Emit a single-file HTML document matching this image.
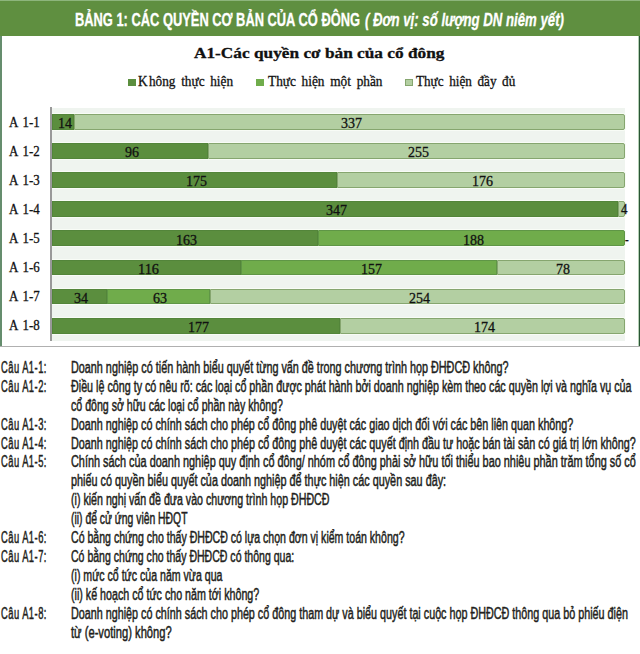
<!DOCTYPE html>
<html><head><meta charset="utf-8"><style>
html,body{margin:0;padding:0;width:640px;height:654px;overflow:hidden;background:#fff;position:relative}
.t{position:absolute;white-space:nowrap;line-height:1;transform-origin:0 0}
.hdr{position:absolute;left:0;top:0;width:640px;height:36px;background:#5f8f40}
.fl{position:absolute;left:0;top:36px;width:2.3px;height:311px;background:#658d6d}
.fr{position:absolute;left:638.8px;top:36px;width:1.2px;height:311px;background:#2a5535}
.fr2{position:absolute;left:637.5px;top:36px;width:1.3px;height:310px;background:#b5d0b5}
.fb{position:absolute;left:0;top:345.9px;width:640px;height:1.6px;background:#b0b0b0}
.plot{position:absolute;left:51px;top:107.5px;width:574px;height:233px;background:#eff4ef}
.axis{position:absolute;left:50.2px;top:107px;width:1.5px;height:234.4px;background:#999;z-index:2}
.bar{position:absolute;left:51.5px;height:15.8px;display:flex;box-shadow:0 0 0 1px #f8fcf6;width:573px}
.seg{height:100%;box-sizing:border-box}
.seg:last-child{border-radius:0 2px 2px 0}
.bar{border-radius:0 2px 2px 0}
.d{background:#5b8e3e;border:1px solid #53853a}
.m{background:#70ac4b;border:1px solid #5f9646}
.l{background:#b3cfa2;border:1px solid #86a66f}
.lg{position:absolute;top:79.2px;width:7.5px;height:7px}

</style></head><body>

<div class="hdr"></div><div style="position:absolute;left:0;top:0;width:640px;height:1px;background:#8db57c"></div>
<div class="fl"></div><div class="fr2"></div><div class="fr"></div><div class="fb"></div>
<div class="plot"></div>
<div class="axis"></div>
<div class="lg" style="left:128.25px;background:#5b8e3e"></div>
<div class="lg" style="left:256.25px;background:#70ac4b"></div>
<div class="lg" style="left:405px;background:#b3cfa2;border:1px solid #86a66f;box-sizing:border-box"></div>

<div class="bar" style="top:113.80px"><div class="seg d" style="width:22.86px"></div><div class="seg l" style="width:550.34px"></div></div>
<div class="bar" style="top:142.94px"><div class="seg d" style="width:156.77px"></div><div class="seg l" style="width:416.43px"></div></div>
<div class="bar" style="top:172.08px"><div class="seg d" style="width:285.78px"></div><div class="seg l" style="width:287.42px"></div></div>
<div class="bar" style="top:201.22px"><div class="seg d" style="width:566.67px"></div><div class="seg l" style="width:6.53px"></div></div>
<div class="bar" style="top:230.36px"><div class="seg d" style="width:266.19px"></div><div class="seg m" style="width:307.01px"></div></div>
<div class="bar" style="top:259.50px"><div class="seg d" style="width:189.43px"></div><div class="seg m" style="width:256.39px"></div><div class="seg l" style="width:127.38px"></div></div>
<div class="bar" style="top:288.64px"><div class="seg d" style="width:55.52px"></div><div class="seg m" style="width:102.88px"></div><div class="seg l" style="width:414.79px"></div></div>
<div class="bar" style="top:317.78px"><div class="seg d" style="width:289.05px"></div><div class="seg l" style="width:284.15px"></div></div>
<div class="t" id="t0" style="left:74.50px;top:11.79px;font-family:'Liberation Sans', sans-serif;font-size:17.5px;font-weight:bold;font-style:normal;color:#ffffff;transform:scaleX(0.7352);-webkit-text-stroke:0.3px #ffffff;word-spacing:0px;letter-spacing:0px">BẢNG 1: CÁC QUYỀN CƠ BẢN CỦA CỔ ĐÔNG</div>
<div class="t" id="t1" style="left:365.00px;top:11.79px;font-family:'Liberation Sans', sans-serif;font-size:17.5px;font-weight:bold;font-style:italic;color:#ffffff;transform:scaleX(0.7552);-webkit-text-stroke:0.3px #ffffff;word-spacing:0px;letter-spacing:0px">( Đơn vị: số lượng DN niêm yết)</div>
<div class="t" id="t2" style="left:194.20px;top:45.84px;font-family:'Liberation Serif', serif;font-size:15px;font-weight:bold;font-style:normal;color:#111;transform:scaleX(1.1513);-webkit-text-stroke:0.3px #111;word-spacing:0px;letter-spacing:0px">A1-Các quyền cơ bản của cổ đông</div>
<div class="t" id="t3" style="left:138.00px;top:75.48px;font-family:'Liberation Serif', serif;font-size:14px;font-weight:normal;font-style:normal;color:#111;transform:scaleX(0.9460);-webkit-text-stroke:0.3px #111;word-spacing:2.5px;letter-spacing:0px">K<span style="margin-left:1.5px">hông</span> thực hiện</div>
<div class="t" id="t4" style="left:267.50px;top:75.48px;font-family:'Liberation Serif', serif;font-size:14px;font-weight:normal;font-style:normal;color:#111;transform:scaleX(0.9506);-webkit-text-stroke:0.3px #111;word-spacing:2.5px;letter-spacing:0px">Thực hiện một phần</div>
<div class="t" id="t5" style="left:415.75px;top:75.48px;font-family:'Liberation Serif', serif;font-size:14px;font-weight:normal;font-style:normal;color:#111;transform:scaleX(0.9392);-webkit-text-stroke:0.3px #111;word-spacing:2.5px;letter-spacing:0px">Thực hiện đầy đủ</div>
<div class="t" id="t6" style="left:9.20px;top:114.51px;font-family:'Liberation Serif', serif;font-size:14.5px;font-weight:normal;font-style:normal;color:#111;transform:scaleX(0.8895);-webkit-text-stroke:0.3px #111;word-spacing:2px;letter-spacing:0px">A 1-1</div>
<div class="t" id="t7" style="left:9.20px;top:143.65px;font-family:'Liberation Serif', serif;font-size:14.5px;font-weight:normal;font-style:normal;color:#111;transform:scaleX(0.8895);-webkit-text-stroke:0.3px #111;word-spacing:2px;letter-spacing:0px">A 1-2</div>
<div class="t" id="t8" style="left:9.20px;top:172.79px;font-family:'Liberation Serif', serif;font-size:14.5px;font-weight:normal;font-style:normal;color:#111;transform:scaleX(0.8895);-webkit-text-stroke:0.3px #111;word-spacing:2px;letter-spacing:0px">A 1-3</div>
<div class="t" id="t9" style="left:9.20px;top:201.93px;font-family:'Liberation Serif', serif;font-size:14.5px;font-weight:normal;font-style:normal;color:#111;transform:scaleX(0.8895);-webkit-text-stroke:0.3px #111;word-spacing:2px;letter-spacing:0px">A 1-4</div>
<div class="t" id="t10" style="left:9.20px;top:231.07px;font-family:'Liberation Serif', serif;font-size:14.5px;font-weight:normal;font-style:normal;color:#111;transform:scaleX(0.8895);-webkit-text-stroke:0.3px #111;word-spacing:2px;letter-spacing:0px">A 1-5</div>
<div class="t" id="t11" style="left:9.20px;top:260.21px;font-family:'Liberation Serif', serif;font-size:14.5px;font-weight:normal;font-style:normal;color:#111;transform:scaleX(0.8895);-webkit-text-stroke:0.3px #111;word-spacing:2px;letter-spacing:0px">A 1-6</div>
<div class="t" id="t12" style="left:9.20px;top:289.35px;font-family:'Liberation Serif', serif;font-size:14.5px;font-weight:normal;font-style:normal;color:#111;transform:scaleX(0.8895);-webkit-text-stroke:0.3px #111;word-spacing:2px;letter-spacing:0px">A 1-7</div>
<div class="t" id="t13" style="left:9.20px;top:318.49px;font-family:'Liberation Serif', serif;font-size:14.5px;font-weight:normal;font-style:normal;color:#111;transform:scaleX(0.8895);-webkit-text-stroke:0.3px #111;word-spacing:2px;letter-spacing:0px">A 1-8</div>
<div class="t" id="t14" style="left:57.93px;top:115.94px;font-family:'Liberation Serif', serif;font-size:15px;font-weight:normal;font-style:normal;color:#111;transform:scaleX(0.9333);-webkit-text-stroke:0.3px #111;word-spacing:0px;letter-spacing:0px">14</div>
<div class="t" id="t15" style="left:341.03px;top:115.94px;font-family:'Liberation Serif', serif;font-size:15px;font-weight:normal;font-style:normal;color:#111;transform:scaleX(0.9333);-webkit-text-stroke:0.3px #111;word-spacing:0px;letter-spacing:0px">337</div>
<div class="t" id="t16" style="left:124.89px;top:145.08px;font-family:'Liberation Serif', serif;font-size:15px;font-weight:normal;font-style:normal;color:#111;transform:scaleX(0.9333);-webkit-text-stroke:0.3px #111;word-spacing:0px;letter-spacing:0px">96</div>
<div class="t" id="t17" style="left:407.99px;top:145.08px;font-family:'Liberation Serif', serif;font-size:15px;font-weight:normal;font-style:normal;color:#111;transform:scaleX(0.9333);-webkit-text-stroke:0.3px #111;word-spacing:0px;letter-spacing:0px">255</div>
<div class="t" id="t18" style="left:185.89px;top:174.22px;font-family:'Liberation Serif', serif;font-size:15px;font-weight:normal;font-style:normal;color:#111;transform:scaleX(0.9333);-webkit-text-stroke:0.3px #111;word-spacing:0px;letter-spacing:0px">175</div>
<div class="t" id="t19" style="left:472.49px;top:174.22px;font-family:'Liberation Serif', serif;font-size:15px;font-weight:normal;font-style:normal;color:#111;transform:scaleX(0.9333);-webkit-text-stroke:0.3px #111;word-spacing:0px;letter-spacing:0px">176</div>
<div class="t" id="t20" style="left:326.33px;top:203.36px;font-family:'Liberation Serif', serif;font-size:15px;font-weight:normal;font-style:normal;color:#111;transform:scaleX(0.9333);-webkit-text-stroke:0.3px #111;word-spacing:0px;letter-spacing:0px">347</div>
<div class="t" id="t21" style="left:176.09px;top:232.50px;font-family:'Liberation Serif', serif;font-size:15px;font-weight:normal;font-style:normal;color:#111;transform:scaleX(0.9333);-webkit-text-stroke:0.3px #111;word-spacing:0px;letter-spacing:0px">163</div>
<div class="t" id="t22" style="left:462.69px;top:232.50px;font-family:'Liberation Serif', serif;font-size:15px;font-weight:normal;font-style:normal;color:#111;transform:scaleX(0.9333);-webkit-text-stroke:0.3px #111;word-spacing:0px;letter-spacing:0px">188</div>
<div class="t" id="t23" style="left:137.72px;top:261.64px;font-family:'Liberation Serif', serif;font-size:15px;font-weight:normal;font-style:normal;color:#111;transform:scaleX(0.9566);-webkit-text-stroke:0.3px #111;word-spacing:0px;letter-spacing:0px">116</div>
<div class="t" id="t24" style="left:360.63px;top:261.64px;font-family:'Liberation Serif', serif;font-size:15px;font-weight:normal;font-style:normal;color:#111;transform:scaleX(0.9333);-webkit-text-stroke:0.3px #111;word-spacing:0px;letter-spacing:0px">157</div>
<div class="t" id="t25" style="left:556.01px;top:261.64px;font-family:'Liberation Serif', serif;font-size:15px;font-weight:normal;font-style:normal;color:#111;transform:scaleX(0.9333);-webkit-text-stroke:0.3px #111;word-spacing:0px;letter-spacing:0px">78</div>
<div class="t" id="t26" style="left:74.26px;top:290.78px;font-family:'Liberation Serif', serif;font-size:15px;font-weight:normal;font-style:normal;color:#111;transform:scaleX(0.9333);-webkit-text-stroke:0.3px #111;word-spacing:0px;letter-spacing:0px">34</div>
<div class="t" id="t27" style="left:153.46px;top:290.78px;font-family:'Liberation Serif', serif;font-size:15px;font-weight:normal;font-style:normal;color:#111;transform:scaleX(0.9333);-webkit-text-stroke:0.3px #111;word-spacing:0px;letter-spacing:0px">63</div>
<div class="t" id="t28" style="left:408.80px;top:290.78px;font-family:'Liberation Serif', serif;font-size:15px;font-weight:normal;font-style:normal;color:#111;transform:scaleX(0.9333);-webkit-text-stroke:0.3px #111;word-spacing:0px;letter-spacing:0px">254</div>
<div class="t" id="t29" style="left:187.52px;top:319.92px;font-family:'Liberation Serif', serif;font-size:15px;font-weight:normal;font-style:normal;color:#111;transform:scaleX(0.9333);-webkit-text-stroke:0.3px #111;word-spacing:0px;letter-spacing:0px">177</div>
<div class="t" id="t30" style="left:474.12px;top:319.92px;font-family:'Liberation Serif', serif;font-size:15px;font-weight:normal;font-style:normal;color:#111;transform:scaleX(0.9333);-webkit-text-stroke:0.3px #111;word-spacing:0px;letter-spacing:0px">174</div>
<div class="t" id="t31" style="left:620.70px;top:202.16px;font-family:'Liberation Serif', serif;font-size:14.5px;font-weight:normal;font-style:normal;color:#111;transform:scaleX(0.8966);-webkit-text-stroke:0.3px #111;word-spacing:0px;letter-spacing:0px">4</div>
<div class="t" id="t32" style="left:625.30px;top:231.86px;font-family:'Liberation Serif', serif;font-size:14.5px;font-weight:normal;font-style:normal;color:#111;transform:scaleX(0.7639);-webkit-text-stroke:0.3px #111;word-spacing:0px;letter-spacing:0px">-</div>
<div class="t" id="t33" style="left:0.50px;top:359.93px;font-family:'Liberation Sans', sans-serif;font-size:15.8px;font-weight:normal;font-style:normal;color:#231f20;transform:scaleX(0.5926);-webkit-text-stroke:0.5px #231f20;word-spacing:0px;letter-spacing:0.8px">Câu A1-1:</div>
<div class="t" id="t34" style="left:71.40px;top:359.93px;font-family:'Liberation Sans', sans-serif;font-size:15.8px;font-weight:normal;font-style:normal;color:#231f20;transform:scaleX(0.6844);-webkit-text-stroke:0.5px #231f20;word-spacing:0px;letter-spacing:0px">Doanh nghiệp có tiến hành biểu quyết từng vấn đề trong chương trình họp ĐHĐCĐ không?</div>
<div class="t" id="t35" style="left:0.50px;top:378.83px;font-family:'Liberation Sans', sans-serif;font-size:15.8px;font-weight:normal;font-style:normal;color:#231f20;transform:scaleX(0.5926);-webkit-text-stroke:0.5px #231f20;word-spacing:0px;letter-spacing:0.8px">Câu A1-2:</div>
<div class="t" id="t36" style="left:71.40px;top:378.83px;font-family:'Liberation Sans', sans-serif;font-size:15.8px;font-weight:normal;font-style:normal;color:#231f20;transform:scaleX(0.6794);-webkit-text-stroke:0.5px #231f20;word-spacing:0px;letter-spacing:0px">Điều lệ công ty có nêu rõ: các loại cổ phần được phát hành bởi doanh nghiệp kèm theo các quyền lợi và nghĩa vụ của</div>
<div class="t" id="t37" style="left:71.40px;top:397.73px;font-family:'Liberation Sans', sans-serif;font-size:15.8px;font-weight:normal;font-style:normal;color:#231f20;transform:scaleX(0.6708);-webkit-text-stroke:0.5px #231f20;word-spacing:0px;letter-spacing:0px">cổ đông sở hữu các loại cổ phần này không?</div>
<div class="t" id="t38" style="left:0.50px;top:416.63px;font-family:'Liberation Sans', sans-serif;font-size:15.8px;font-weight:normal;font-style:normal;color:#231f20;transform:scaleX(0.5926);-webkit-text-stroke:0.5px #231f20;word-spacing:0px;letter-spacing:0.8px">Câu A1-3:</div>
<div class="t" id="t39" style="left:71.40px;top:416.63px;font-family:'Liberation Sans', sans-serif;font-size:15.8px;font-weight:normal;font-style:normal;color:#231f20;transform:scaleX(0.6819);-webkit-text-stroke:0.5px #231f20;word-spacing:0px;letter-spacing:0px">Doanh nghiệp có chính sách cho phép cổ đông phê duyệt các giao dịch đối với các bên liên quan không?</div>
<div class="t" id="t40" style="left:0.50px;top:435.53px;font-family:'Liberation Sans', sans-serif;font-size:15.8px;font-weight:normal;font-style:normal;color:#231f20;transform:scaleX(0.5926);-webkit-text-stroke:0.5px #231f20;word-spacing:0px;letter-spacing:0.8px">Câu A1-4:</div>
<div class="t" id="t41" style="left:71.40px;top:435.53px;font-family:'Liberation Sans', sans-serif;font-size:15.8px;font-weight:normal;font-style:normal;color:#231f20;transform:scaleX(0.6821);-webkit-text-stroke:0.5px #231f20;word-spacing:0px;letter-spacing:0px">Doanh nghiệp có chính sách cho phép cổ đông phê duyệt các quyết định đầu tư hoặc bán tài sản có giá trị lớn không?</div>
<div class="t" id="t42" style="left:0.50px;top:454.43px;font-family:'Liberation Sans', sans-serif;font-size:15.8px;font-weight:normal;font-style:normal;color:#231f20;transform:scaleX(0.5926);-webkit-text-stroke:0.5px #231f20;word-spacing:0px;letter-spacing:0.8px">Câu A1-5:</div>
<div class="t" id="t43" style="left:71.40px;top:454.43px;font-family:'Liberation Sans', sans-serif;font-size:15.8px;font-weight:normal;font-style:normal;color:#231f20;transform:scaleX(0.6894);-webkit-text-stroke:0.5px #231f20;word-spacing:0px;letter-spacing:0px">Chính sách của doanh nghiệp quy định cổ đông/ nhóm cổ đông phải sở hữu tối thiểu bao nhiêu phần trăm tổng số cổ</div>
<div class="t" id="t44" style="left:71.40px;top:473.33px;font-family:'Liberation Sans', sans-serif;font-size:15.8px;font-weight:normal;font-style:normal;color:#231f20;transform:scaleX(0.6855);-webkit-text-stroke:0.5px #231f20;word-spacing:0px;letter-spacing:0px">phiếu có quyền biểu quyết của doanh nghiệp để thực hiện các quyền sau đây:</div>
<div class="t" id="t45" style="left:71.40px;top:492.23px;font-family:'Liberation Sans', sans-serif;font-size:15.8px;font-weight:normal;font-style:normal;color:#231f20;transform:scaleX(0.6738);-webkit-text-stroke:0.5px #231f20;word-spacing:0px;letter-spacing:0px">(i) kiến nghị vấn đề đưa vào chương trình họp ĐHĐCĐ</div>
<div class="t" id="t46" style="left:71.40px;top:511.13px;font-family:'Liberation Sans', sans-serif;font-size:15.8px;font-weight:normal;font-style:normal;color:#231f20;transform:scaleX(0.6566);-webkit-text-stroke:0.5px #231f20;word-spacing:0px;letter-spacing:0px">(ii) để cử ứng viên HĐQT</div>
<div class="t" id="t47" style="left:0.50px;top:530.03px;font-family:'Liberation Sans', sans-serif;font-size:15.8px;font-weight:normal;font-style:normal;color:#231f20;transform:scaleX(0.5926);-webkit-text-stroke:0.5px #231f20;word-spacing:0px;letter-spacing:0.8px">Câu A1-6:</div>
<div class="t" id="t48" style="left:71.40px;top:530.03px;font-family:'Liberation Sans', sans-serif;font-size:15.8px;font-weight:normal;font-style:normal;color:#231f20;transform:scaleX(0.6688);-webkit-text-stroke:0.5px #231f20;word-spacing:0px;letter-spacing:0px">Có bằng chứng cho thấy ĐHĐCĐ có lựa chọn đơn vị kiểm toán không?</div>
<div class="t" id="t49" style="left:0.50px;top:548.93px;font-family:'Liberation Sans', sans-serif;font-size:15.8px;font-weight:normal;font-style:normal;color:#231f20;transform:scaleX(0.5926);-webkit-text-stroke:0.5px #231f20;word-spacing:0px;letter-spacing:0.8px">Câu A1-7:</div>
<div class="t" id="t50" style="left:71.40px;top:548.93px;font-family:'Liberation Sans', sans-serif;font-size:15.8px;font-weight:normal;font-style:normal;color:#231f20;transform:scaleX(0.6672);-webkit-text-stroke:0.5px #231f20;word-spacing:0px;letter-spacing:0px">Có bằng chứng cho thấy ĐHĐCĐ có thông qua:</div>
<div class="t" id="t51" style="left:71.40px;top:567.83px;font-family:'Liberation Sans', sans-serif;font-size:15.8px;font-weight:normal;font-style:normal;color:#231f20;transform:scaleX(0.6711);-webkit-text-stroke:0.5px #231f20;word-spacing:0px;letter-spacing:0px">(i) mức cổ tức của năm vừa qua</div>
<div class="t" id="t52" style="left:71.40px;top:586.73px;font-family:'Liberation Sans', sans-serif;font-size:15.8px;font-weight:normal;font-style:normal;color:#231f20;transform:scaleX(0.6766);-webkit-text-stroke:0.5px #231f20;word-spacing:0px;letter-spacing:0px">(ii) kế hoạch cổ tức cho năm tới không?</div>
<div class="t" id="t53" style="left:0.50px;top:605.63px;font-family:'Liberation Sans', sans-serif;font-size:15.8px;font-weight:normal;font-style:normal;color:#231f20;transform:scaleX(0.5926);-webkit-text-stroke:0.5px #231f20;word-spacing:0px;letter-spacing:0.8px">Câu A1-8:</div>
<div class="t" id="t54" style="left:71.40px;top:605.63px;font-family:'Liberation Sans', sans-serif;font-size:15.8px;font-weight:normal;font-style:normal;color:#231f20;transform:scaleX(0.6819);-webkit-text-stroke:0.5px #231f20;word-spacing:0px;letter-spacing:0px">Doanh nghiệp có chính sách cho phép cổ đông tham dự và biểu quyết tại cuộc họp ĐHĐCĐ thông qua bỏ phiếu điện</div>
<div class="t" id="t55" style="left:71.40px;top:624.53px;font-family:'Liberation Sans', sans-serif;font-size:15.8px;font-weight:normal;font-style:normal;color:#231f20;transform:scaleX(0.7080);-webkit-text-stroke:0.5px #231f20;word-spacing:0px;letter-spacing:0px">từ (e-voting) không?</div>
</body></html>
